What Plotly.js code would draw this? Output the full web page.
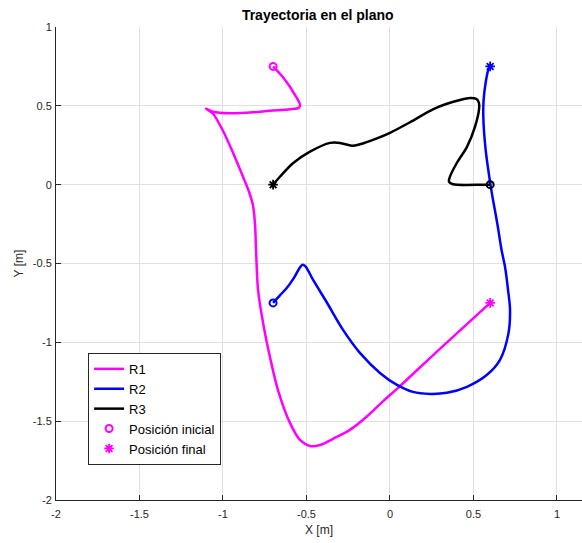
<!DOCTYPE html>
<html>
<head>
<meta charset="utf-8">
<script src="https://cdn.plot.ly/plotly-3.0.1.min.js"></script>
<style>html,body{margin:0;padding:0;background:#fff;}#chart{width:582px;height:543px;}</style>
</head>
<body>
<div id="chart"></div>
<script>
// Trajectory R1 (magenta)
const r1X = [-0.70,-0.629,-0.569,-0.539,-0.545,-0.599,-0.719,-0.820,-0.958,-1.060,-1.102,-1.060,-1.000,-0.940,-0.880,-0.844,-0.820,-0.808,-0.802,-0.790,-0.760,-0.719,-0.671,-0.599,-0.539,-0.479,-0.419,-0.341,-0.240,-0.138,-0.042,0.042,0.299,0.60];
const r1Y = [0.75,0.666,0.570,0.507,0.488,0.478,0.469,0.459,0.453,0.463,0.482,0.450,0.342,0.202,0.050,-0.045,-0.134,-0.254,-0.413,-0.667,-0.876,-1.092,-1.301,-1.511,-1.619,-1.657,-1.651,-1.612,-1.555,-1.470,-1.374,-1.295,-1.041,-0.75];
// Trajectory R2 (blue)
const r2X = [-0.70,-0.659,-0.617,-0.575,-0.542,-0.524,-0.506,-0.461,-0.377,-0.281,-0.180,-0.060,0.042,0.138,0.240,0.341,0.461,0.581,0.659,0.710,0.719,0.707,0.689,0.668,0.644,0.617,0.602,0.573,0.559,0.561,0.573,0.589,0.60];
const r2Y = [-0.75,-0.702,-0.654,-0.591,-0.530,-0.508,-0.518,-0.603,-0.749,-0.921,-1.067,-1.194,-1.270,-1.314,-1.327,-1.320,-1.282,-1.206,-1.111,-0.940,-0.794,-0.667,-0.521,-0.413,-0.254,-0.096,0.0,0.221,0.431,0.539,0.647,0.729,0.75];
// Trajectory R3 (black)
const r3X = [0.60,0.557,0.377,0.353,0.359,0.401,0.461,0.509,0.533,0.533,0.518,0.479,0.419,0.341,0.257,0.120,0.0,-0.078,-0.180,-0.228,-0.299,-0.359,-0.479,-0.581,-0.659,-0.70];
const r3Y = [0.0,0.0,0.003,0.018,0.050,0.139,0.240,0.367,0.474,0.518,0.543,0.549,0.537,0.513,0.478,0.396,0.329,0.294,0.256,0.247,0.265,0.265,0.209,0.136,0.050,0.0];

const names = ['R1','R2','R3'];
const colors = ['#FF00FF','#0000FF','#000000'];
const legendStart = 'Posición inicial';
const legendEnd = 'Posición final';
const tickVals = [-2,-1.5,-1,-0.5,0,0.5,1];
const tickText = ['-2','-1.5','-1','-0.5','0','0.5','1'];

const xs = [r1X, r2X, r3X];
const ys = [r1Y, r2Y, r3Y];
const font = 'Liberation Sans, Arial, Helvetica, sans-serif';

const lineTraces = [], startTraces = [], endTraces = [];
for (let i = 0; i < 3; i++) {
  lineTraces.push({x: xs[i], y: ys[i], mode: 'lines', name: names[i],
    line: {color: colors[i], width: 2.5, shape: 'spline', smoothing: 0.9}});
  startTraces.push({x: [xs[i][0]], y: [ys[i][0]], mode: 'markers', name: legendStart,
    showlegend: i === 0,
    marker: {symbol: 'circle-open', size: 7, color: colors[i], line: {width: 2, color: colors[i]}}});
  const n = xs[i].length - 1;
  endTraces.push({x: [xs[i][n]], y: [ys[i][n]], mode: 'markers', name: legendEnd,
    showlegend: i === 0,
    marker: {symbol: 'asterisk-open', size: 8, color: colors[i], line: {width: 1.8, color: colors[i]}}});
}
const data = lineTraces.concat([startTraces[0], endTraces[0], startTraces[1], startTraces[2], endTraces[1], endTraces[2]]);

const axisCommon = {
  showline: true, linecolor: '#262626', linewidth: 1, mirror: false,
  ticks: 'inside', ticklen: 5, tickcolor: '#262626', tickwidth: 1,
  showgrid: true, gridcolor: '#e0e0e0', gridwidth: 1,
  zeroline: false, tickmode: 'array', tickvals: tickVals, ticktext: tickText,
  tickfont: {family: font, size: 11, color: '#262626'},
  automargin: false
};

const layout = {
  width: 582, height: 543,
  margin: {l: 56, r: 0, t: 27, b: 43},
  paper_bgcolor: '#ffffff', plot_bgcolor: '#ffffff',
  font: {family: font, color: '#262626'},
  title: {text: '<b>Trayectoria en el plano</b>', font: {family: font, size: 14, color: '#000000'},
    x: 0.546, xanchor: 'center', y: 0.972, yanchor: 'middle', yref: 'container'},
  xaxis: Object.assign({}, axisCommon, {range: [-2, 1.15], ticklabelstandoff: 4,
    title: {text: 'X [m]', font: {family: font, size: 12, color: '#262626'}, standoff: 6}}),
  yaxis: Object.assign({}, axisCommon, {range: [-2, 1], ticklabelstandoff: 1,
    title: {text: 'Y [m]', font: {family: font, size: 12, color: '#262626'}, standoff: 6}}),
  legend: {x: 0.061, y: 0.311, xanchor: 'left', yanchor: 'top',
    bgcolor: '#ffffff', bordercolor: '#262626', borderwidth: 1,
    font: {family: font, size: 13, color: '#000000'}, tracegroupgap: 0},
  showlegend: true
};

Plotly.newPlot('chart', data, layout, {displayModeBar: false, staticPlot: true});
</script>
</body>
</html>
